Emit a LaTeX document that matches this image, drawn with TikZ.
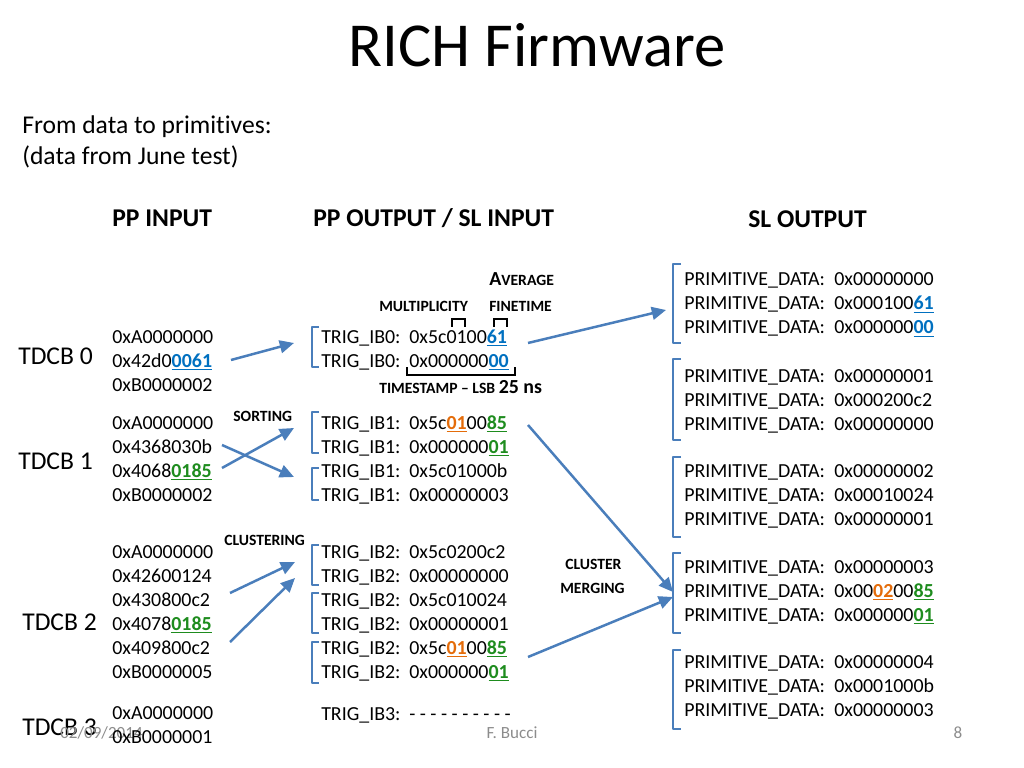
\documentclass[tikz,border=0pt]{standalone}
\usepackage{fontspec}
\setmainfont{Carlito}[Ligatures={TeX,NoCommon},Contextuals={NoAlternate}]
\usetikzlibrary{arrows.meta}
\definecolor{arrowblue}{HTML}{4A7EBB}
\definecolor{hexblue}{HTML}{0070C0}
\definecolor{hexgreen}{HTML}{1E8C1E}
\definecolor{hexorange}{HTML}{E46C0A}
\definecolor{footgray}{HTML}{8C8C8C}
\newcommand\fsz[1]{\fontsize{#1}{#1}\selectfont}
\newcommand\hlt[2]{{\color{#1}\bfseries\setbox0\hbox{#2}\rlap{\rule[-2.3pt]{\wd0}{0.9pt}}\box0}}
\tikzset{
  txt/.style={anchor=base west, inner sep=0pt, font=\fsz{14}},
  hdr/.style={anchor=base west, inner sep=0pt, font=\fsz{18}\bfseries},
  lbl/.style={anchor=base west, inner sep=0pt, font=\fsz{11}\bfseries},
  tdcb/.style={anchor=base west, inner sep=0pt, font=\fsz{18}},
  foot/.style={anchor=base, inner sep=0pt, font=\fsz{12}, text=footgray},
  brk/.style={draw=arrowblue, line width=1.7pt, line join=round},
  sbrk/.style={draw=black, line width=1.6pt},
  arr/.style={draw=arrowblue, line width=1.75pt, -{Triangle[length=10pt,width=9pt]}}
}
\begin{document}
\begin{tikzpicture}[x=0.703125pt, y=-0.703125pt]
\useasboundingbox (0,0) rectangle (1024,768);
% title
\node[anchor=base, inner sep=0pt, font=\fsz{44}] (title) at (537,67) {RICH Firmware};
\node[anchor=base west, inner sep=0pt, font=\fsz{18}] (sub1) at (22,134) {From data to primi\kern0pt tives:};
\node[anchor=base west, inner sep=0pt, font=\fsz{18}] (sub2) at (22,165) {(data from June test)};
% headers
\node[hdr] (h1) at (112,227) {PP INPUT};
\node[hdr] (h2) at (313,227) {PP OUTPUT / SL INPUT};
\node[hdr] (h3) at (748,228) {SL OUTPUT};
% TDCB labels
\node[tdcb] (t0) at (18,364) {TDCB 0};
\node[tdcb] (t1) at (18,469) {TDCB 1};
\node[tdcb] (t2) at (22,630) {TDCB 2};
\node[tdcb] (t3) at (22,735) {TDCB 3};
% footer
\node[anchor=base west, inner sep=0pt, font=\fsz{12}, text=footgray] (date) at (60,738) {02/09/2014};
\node[foot] (auth) at (512,738) {F. Bucci};
\node[foot] (page) at (958,738) {8};
% left column
\foreach \y/\t [count=\i] in {
  337/{0xA0000000}, 361/{0x42d0\hlt{hexblue}{0061}}, 385/{0xB0000002},
  423/{0xA0000000}, 447/{0x4368030b}, 471/{0x4068\hlt{hexgreen}{0185}}, 495/{0xB0000002},
  552/{0xA0000000}, 576/{0x42600124}, 600/{0x430800c2}, 624/{0x4078\hlt{hexgreen}{0185}}, 648/{0x409800c2}, 672/{0xB0000005},
  713/{0xA0000000}, 737/{0xB0000001}}
  \node[txt] (L\i) at (112,\y+6) {\t};
% middle column
\foreach \y/\n/\t [count=\i] in {
  337/0/{0x5c0100\hlt{hexblue}{61}}, 361/0/{0x000000\hlt{hexblue}{00}},
  423/1/{0x5c\hlt{hexorange}{01}00\hlt{hexgreen}{85}}, 447/1/{0x000000\hlt{hexgreen}{01}},
  471/1/{0x5c01000b}, 495/1/{0x00000003},
  552/2/{0x5c0200c2}, 576/2/{0x00000000}, 600/2/{0x5c010024}, 624/2/{0x00000001},
  648/2/{0x5c\hlt{hexorange}{01}00\hlt{hexgreen}{85}}, 672/2/{0x000000\hlt{hexgreen}{01}},
  714/3/{- - - - - - - - - -}}
{
  \node[txt] (M\i) at (321,\y+6) {TRIG\_IB\n:};
  \node[txt] (MV\i) at (409,\y+6) {\t};
}
% right column
\foreach \y/\t [count=\i] in {
  280/{0x00000000}, 304/{0x000100\hlt{hexblue}{61}}, 328/{0x000000\hlt{hexblue}{00}},
  376/{0x00000001}, 400/{0x000200c2}, 424/{0x00000000},
  471/{0x00000002}, 495/{0x00010024}, 519/{0x00000001},
  567/{0x00000003}, 591/{0x00\hlt{hexorange}{02}00\hlt{hexgreen}{85}}, 615/{0x000000\hlt{hexgreen}{01}},
  662/{0x00000004}, 686/{0x0001000b}, 710/{0x00000003}}
{
  \node[txt] (R\i) at (684,\y+6) {PRIMITIVE\_DATA:};
  \node[txt] (RV\i) at (834,\y+6) {\t};
}
% middle brackets
\foreach \a/\b in {327/367, 412/453, 468/500, 545/585, 593/633, 642/683}
  \draw[brk] (319,\a) -- (312,\a) -- (312,\b) -- (319,\b);
% right brackets
\foreach \a/\b in {264/343, 359/440, 457/537, 553/633, 650/729}
  \draw[brk] (681,\a) -- (673,\a) -- (673,\b) -- (681,\b);
% annotation labels
\node[anchor=base west, inner sep=0pt, font=\bfseries] (avg) at (489,286) {\fsz{14}A\fsz{11}VERAGE};
\node[lbl] (mult) at (379,311) {MULTIPLICITY};
\node[lbl] (fine) at (489,311) {FINETIME};
\node[anchor=base west, inner sep=0pt, font=\bfseries] (ts) at (379,393) {\fsz{11}TIMESTAMP -- LSB \fsz{14}25 ns};
\node[lbl] (sort) at (233,421) {SORTING};
\node[lbl] (clus) at (224,545) {CLUSTERING};
\node[lbl] (cm1) at (565,569) {CLUSTER};
\node[lbl] (cm2) at (560,593) {MERGING};
% small black brackets
\draw[sbrk] (452,327) -- (452,319) -- (465,319) -- (465,327);
\draw[sbrk] (494,327) -- (494,319) -- (507,319) -- (507,327);
\draw[sbrk] (407,367) -- (407,375) -- (515,375) -- (515,367);
% arrow end points
\coordinate (a0s) at (231,360); \coordinate (a0e) at (294,343);
\coordinate (s1s) at (222,468); \coordinate (s1e) at (294,428);
\coordinate (s2s) at (222,445); \coordinate (s2e) at (294,477);
\coordinate (c1s) at (230,593); \coordinate (c1e) at (295,562);
\coordinate (c2s) at (230,642); \coordinate (c2e) at (295,578);
\coordinate (tps) at (528,343); \coordinate (tpe) at (666,310);
\coordinate (m1s) at (528,425); \coordinate (m1e) at (673,592);
\coordinate (m2s) at (528,657); \coordinate (m2e) at (673,597);
\draw[arr] (a0s) -- (a0e);
\draw[arr] (s1s) -- (s1e);
\draw[arr] (s2s) -- (s2e);
\draw[arr] (c1s) -- (c1e);
\draw[arr] (c2s) -- (c2e);
\draw[arr] (tps) -- (tpe);
\draw[arr] (m1s) -- (m1e);
\draw[arr] (m2s) -- (m2e);
\end{tikzpicture}
\end{document}
